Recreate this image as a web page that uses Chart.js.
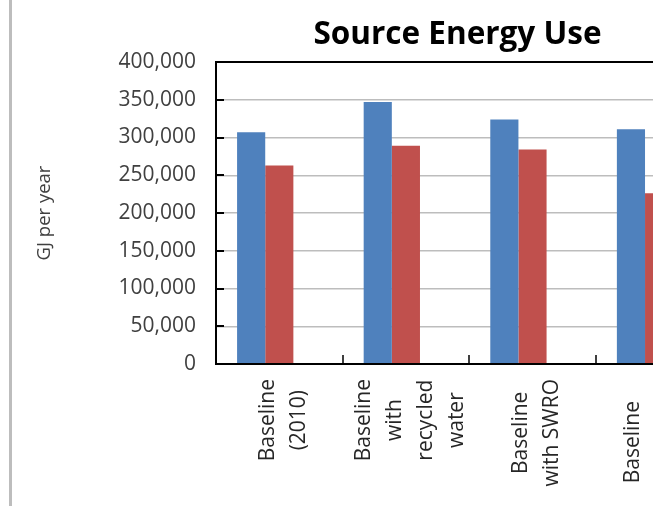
<!DOCTYPE html>
<html>
<head>
<meta charset="utf-8">
<script src="https://cdn.jsdelivr.net/npm/chart.js@4/dist/chart.umd.min.js"></script>
<style>
  html, body { margin: 0; padding: 0; background: #fff; overflow: hidden; }
  #wrap { position: relative; width: 653px; height: 506px; overflow: hidden; }
  #chart { position: absolute; left: 0; top: 0; }
  #edge { position: absolute; left: 9px; top: 0; width: 3px; height: 506px; background: #bdbdbd; }
</style>
</head>
<body>
<div id="wrap">
  <canvas id="chart" width="915" height="506"></canvas>
  <div id="edge"></div>
</div>
<script>
// Scenarios along the category axis (each entry is one wrapped label)
const categories = [
  ['Baseline', '(2010)'],
  ['Baseline', 'with', 'recycled', 'water'],
  ['Baseline', 'with SWRO'],
  ['Baseline', 'with', 'conservation']
];

// Source energy use, GJ per year
const series1 = [307000, 347000, 324000, 311000];
const series2 = [263000, 289000, 284000, 226000];
const series3 = [null, null, null, null];

const yTicks = { min: 0, max: 400000, step: 50000 };

const FONT = "'Open Sans', 'Noto Sans', sans-serif";

// Plot frame, inward tick marks and the centred, rotated category labels
const framePlugin = {
  id: 'frame',
  afterDraw(chart) {
    const { ctx, chartArea: a, scales: { x, y } } = chart;
    ctx.save();
    ctx.strokeStyle = '#000';
    ctx.lineWidth = 2;
    ctx.strokeRect(a.left, a.top, a.right - a.left, a.bottom - a.top);

    ctx.beginPath();
    y.ticks.forEach(t => {
      const py = Math.round(y.getPixelForValue(t.value));
      ctx.moveTo(a.left, py);
      ctx.lineTo(a.left + 8, py);
    });
    ctx.stroke();

    ctx.lineWidth = 1.5;
    ctx.beginPath();
    for (let i = 1; i < categories.length; i++) {
      const px = Math.round((x.getPixelForTick(i - 1) + x.getPixelForTick(i)) / 2);
      ctx.moveTo(px, a.bottom);
      ctx.lineTo(px, a.bottom - 9);
    }
    ctx.stroke();

    ctx.fillStyle = '#262626';
    ctx.font = '21px ' + FONT;
    ctx.textAlign = 'center';
    ctx.textBaseline = 'middle';
    const lineH = 31;
    categories.forEach((lines, i) => {
      const cx = x.getPixelForTick(i) + 4.5;
      const top = a.bottom + 15;
      const maxW = Math.max(...lines.map(l => ctx.measureText(l).width));
      ctx.save();
      ctx.translate(cx, top);
      ctx.rotate(-Math.PI / 2);
      lines.forEach((l, j) => {
        ctx.fillText(l, -maxW / 2, (j - (lines.length - 1) / 2) * lineH);
      });
      ctx.restore();
    });
    ctx.restore();
  }
};

new Chart(document.getElementById('chart'), {
  type: 'bar',
  data: {
    labels: categories.map(c => c.join(' ')),
    datasets: [
      { label: 'Series 1', data: series1, backgroundColor: '#4F81BD' },
      { label: 'Series 2', data: series2, backgroundColor: '#C0504D' },
      { label: 'Series 3', data: series3, backgroundColor: '#9BBB59' }
    ]
  },
  options: {
    responsive: false,
    animation: false,
    devicePixelRatio: 1,
    layout: { padding: { left: 0, top: 0, right: 0, bottom: 142 } },
    datasets: { bar: { categoryPercentage: 0.667, barPercentage: 1, borderWidth: 0 } },
    plugins: {
      legend: { display: false },
      tooltip: { enabled: false },
      title: {
        display: true,
        text: 'Source Energy Use',
        color: '#000',
        font: { family: FONT, size: 31.5, weight: 'bold' },
        padding: { top: 16.6, bottom: 7.6 }
      }
    },
    scales: {
      x: {
        type: 'category',
        offset: true,
        grid: { display: false, drawTicks: false },
        border: { display: false },
        ticks: { display: false }
      },
      y: {
        min: yTicks.min,
        max: yTicks.max,
        afterFit: s => { s.width = 216; },
        grid: { color: '#bdbdbd', lineWidth: 1.5, drawTicks: false },
        border: { display: false },
        ticks: {
          stepSize: yTicks.step,
          padding: 20,
          color: '#404040',
          font: { family: FONT, size: 21 },
          callback: v => v.toLocaleString('en-US')
        },
        title: {
          display: true,
          text: 'GJ per year',
          color: '#404040',
          font: { family: FONT, size: 18.5 },
          padding: { top: 34, bottom: 0 }
        }
      },
      // keeps the space to the right of the plot free
      side: {
        type: 'linear',
        position: 'right',
        display: true,
        afterFit: s => { s.width = 192.6; },
        grid: { display: false, drawTicks: false },
        border: { display: false },
        ticks: { display: false }
      }
    }
  },
  plugins: [framePlugin]
});
</script>
</body>
</html>
